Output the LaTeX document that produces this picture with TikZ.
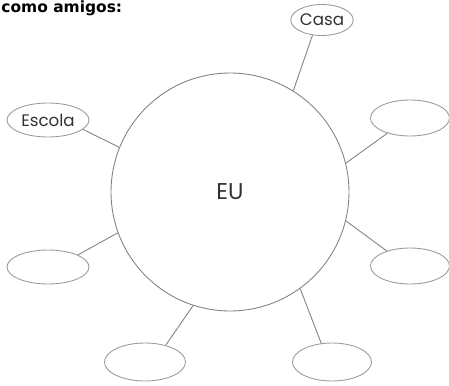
\documentclass[tikz,border=0pt]{standalone}
\usepackage{fontspec}
\setmainfont{Poppins}
\newfontfamily\titlefont{DejaVu Sans}
\usetikzlibrary{shapes.geometric}
\definecolor{linegray}{RGB}{130,130,130}
\definecolor{txtgray}{RGB}{50,50,50}

\begin{document}
\begin{tikzpicture}[x=0.02cm, y=-0.02cm,
  bubble/.style={ellipse, draw=linegray!80, line width=0.5pt, inner sep=0pt,
                 minimum width=1.58cm, minimum height=0.72cm,
                 text=txtgray, font=\fontsize{9.5}{11}\selectfont},
  me/.style={circle, draw=linegray, line width=0.5pt, minimum size=4.76cm,
             text=txtgray, font=\fontsize{13}{15}\selectfont},
  spoke/.style={draw=linegray, line width=0.5pt}
]
\useasboundingbox (0,0) rectangle (449,385);
\node[anchor=base west, inner sep=0pt, font=\titlefont\bfseries\fontsize{8.8}{10}\selectfont] (title) at (1,12.5) {como amigos:};
\node[me] (eu) at (230,192) {EU};
\node[bubble, minimum width=1.2cm, minimum height=0.62cm] (casa) at (322,20) {Casa};
\node[bubble, minimum width=1.64cm, minimum height=0.68cm] (escola) at (48,120) {Escola};
\node[bubble] (rup) at (410,118) {};
\node[bubble] (rlow) at (410,266) {};
\node[bubble, minimum width=1.64cm, minimum height=0.68cm] (llow) at (48,267) {};
\node[bubble, minimum width=1.62cm, minimum height=0.76cm] (bleft) at (145,362) {};
\node[bubble, minimum width=1.58cm, minimum height=0.76cm] (bright) at (332,362) {};
% spokes
\draw[spoke] (eu.58) -- (casa.238);
\draw[spoke] (eu.158) -- (escola.345);
\draw[spoke] (eu.14) -- (rup.214);
\draw[spoke] (eu.346) -- (rlow.147);
\draw[spoke] (eu.200) -- (llow.22);
\draw[spoke] (eu.252) -- (bleft.39);
\draw[spoke] (eu.306) -- (bright.120);
\end{tikzpicture}
\end{document}
